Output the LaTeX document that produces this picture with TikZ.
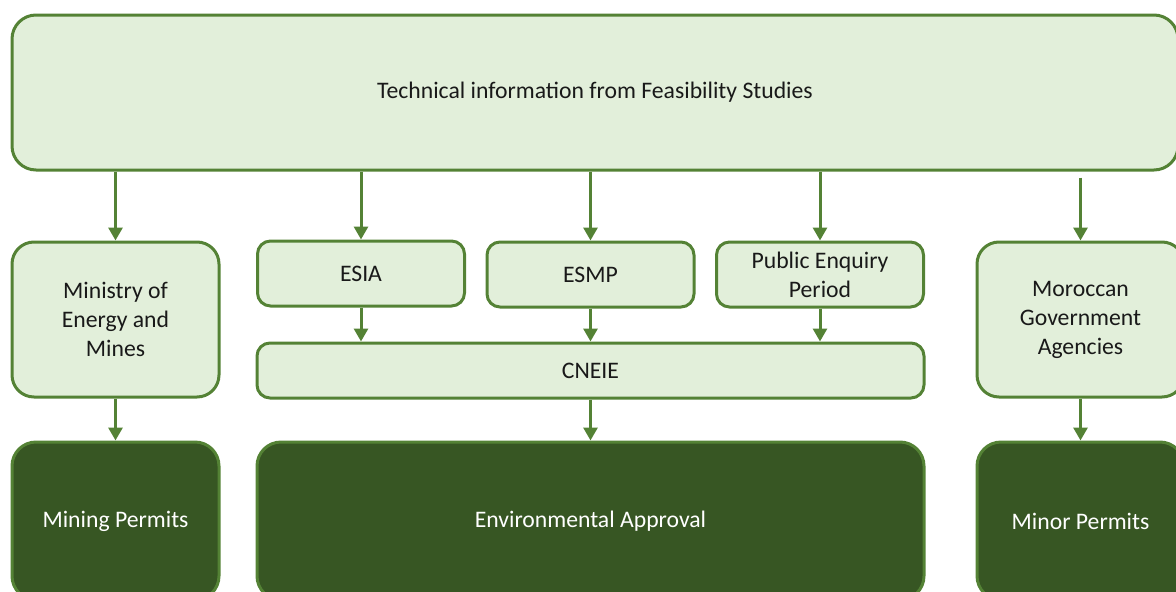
\documentclass[tikz,border=0pt]{standalone}
\usepackage{fontspec}
\setmainfont{Carlito}
\usepackage{xcolor}
\usetikzlibrary{arrows.meta, positioning}
\definecolor{leaf}{HTML}{E2EFDA}
\definecolor{moss}{HTML}{548235}
\definecolor{forest}{HTML}{375623}
\tikzstyle{boxtext} = [font=\fontsize{23.7}{29}\selectfont, align=center, text centered, line width=3pt, draw=moss]
\tikzstyle{study} = [boxtext, rectangle, rounded corners=24pt, fill=leaf, text=black!90]
\tikzstyle{office} = [boxtext, rectangle, rounded corners=22pt, fill=leaf, text=black!90, minimum width=207pt, minimum height=155pt]
\tikzstyle{stagebox} = [boxtext, rectangle, rounded corners=13pt, fill=leaf, text=black!90, minimum width=207pt, minimum height=65pt]
\tikzstyle{permit} = [boxtext, rectangle, rounded corners=24pt, fill=forest, text=white, minimum width=207pt, minimum height=158pt]
\tikzstyle{arrow} = [draw=moss, line width=3pt, -{Triangle[width=14pt,length=13pt]}]

\begin{document}
\begin{tikzpicture}[x=1pt, y=-1pt]
        \useasboundingbox (0,0) rectangle (1176,592);

        % Nodes
        \node (tech) [study, minimum width=1166pt, minimum height=155pt] at (595,92.5) {Technical information from Feasibility Studies};
        \node (ministry) [office] at (115.5,319.5) {Ministry of\\Energy and\\Mines};
        \node (esia) [stagebox] at (361,273.5) {ESIA};
        \node (esmp) [stagebox] at (590.5,274.5) {ESMP};
        \node (enquiry) [stagebox] at (820,274.5) {Public Enquiry\\Period};
        \node (cneie) [stagebox, minimum width=667pt, minimum height=55pt] at (590.5,370.5) {CNEIE};
        \node (agencies) [office] at (1080.5,319.5) {Moroccan\\Government\\Agencies};
        \node (mining) [permit] at (115.5,521) {Mining Permits};
        \node (approval) [permit, minimum width=667pt] at (590.5,521) {Environmental Approval};
        \node (minor) [permit] at (1080.5,521) {Minor Permits};

        % Arrows
        \draw [arrow] (tech.south -| ministry) -- (ministry);
        \draw [arrow] (tech.south -| esia) -- (esia);
        \draw [arrow] (tech.south -| esmp) -- (esmp);
        \draw [arrow] (tech.south -| enquiry) -- (enquiry);
        \draw [arrow] ([yshift=-6pt]tech.south -| agencies) -- (agencies);
        \draw [arrow] (esia.south) -- (esia.south |- cneie.north);
        \draw [arrow] (esmp.south) -- (esmp.south |- cneie.north);
        \draw [arrow] (enquiry.south) -- (enquiry.south |- cneie.north);
        \draw [arrow] (ministry) -- (mining);
        \draw [arrow] (cneie) -- (approval);
        \draw [arrow] (agencies) -- (minor);

\end{tikzpicture}
\end{document}
